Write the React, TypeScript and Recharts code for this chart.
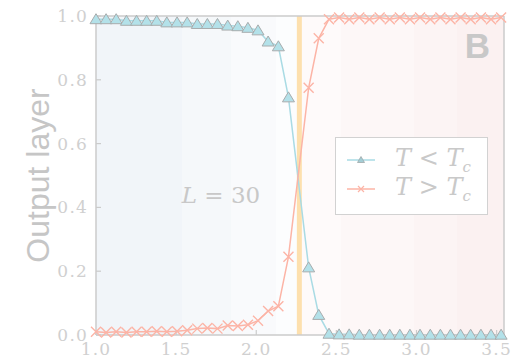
import React from 'react';
import { LineChart, Line, XAxis, YAxis, ReferenceLine, ReferenceArea, ReferenceDot, Legend } from 'recharts';

// temperatures (the point right at Tc is not shown in the figure)
const temperatures = [
  1.0, 1.063, 1.126, 1.19, 1.253, 1.316, 1.379, 1.442, 1.506, 1.569,
  1.632, 1.695, 1.758, 1.822, 1.885, 1.948, 2.011, 2.074, 2.138, 2.201,
  2.327, 2.39, 2.454, 2.517, 2.58, 2.643, 2.706, 2.77, 2.833, 2.896,
  2.959, 3.022, 3.086, 3.149, 3.212, 3.275, 3.338, 3.402, 3.465, 3.528,
];

// output neuron "T < Tc"
const belowTc = [
  0.99, 0.99, 0.99, 0.985, 0.985, 0.985, 0.985, 0.98, 0.98, 0.98,
  0.975, 0.975, 0.975, 0.97, 0.968, 0.963, 0.955, 0.92, 0.905, 0.745,
  0.212, 0.063, 0.004, 0.002, 0.002, 0.001, 0.001, 0.001, 0.001, 0.001,
  0.001, 0.001, 0.001, 0.001, 0.001, 0.001, 0.001, 0.001, 0.001, 0.001,
];

// output neuron "T > Tc"
const aboveTc = [
  0.01, 0.008, 0.01, 0.008, 0.01, 0.01, 0.012, 0.01, 0.012, 0.015,
  0.02, 0.022, 0.02, 0.03, 0.028, 0.032, 0.045, 0.075, 0.09, 0.245,
  0.775, 0.93, 0.99, 0.995, 0.99, 0.995, 0.99, 0.995, 0.99, 0.995,
  0.99, 0.995, 0.99, 0.995, 0.99, 0.995, 0.99, 0.995, 0.99, 0.995,
];

const xTicks = [1.0, 1.5, 2.0, 2.5, 3.0, 3.5];
const yTicks = [0, 0.2, 0.4, 0.6, 0.8, 1.0];
const criticalT = 2.269;
const xDomain = [1.0, 3.546];

const data = temperatures.map((T, i) => ({ T, below: belowTc[i], above: aboveTc[i] }));

const GRAY = '#cbcbcb';
const BLUE = '#a9dbe4';
const RED = '#fcb4a6';

const tickStyle = { fontFamily: 'DejaVu Serif', fontSize: 17, fill: '#d0d0d0', letterSpacing: 1.2 };

const TriangleDot = (props: any) => {
  const { cx, cy, index } = props;
  if (cx == null || cy == null) return null;
  return (
    <path
      key={`tri-${index}`}
      d={`M${cx},${cy - 5.5} L${cx + 6},${cy + 4.5} L${cx - 6},${cy + 4.5} Z`}
      fill="#b3e1e9"
      stroke="#a8acad"
      strokeWidth={1}
    />
  );
};

const CrossDot = (props: any) => {
  const { cx, cy, index } = props;
  if (cx == null || cy == null) return null;
  const s = 5;
  return (
    <path
      key={`x-${index}`}
      d={`M${cx - s},${cy - s} L${cx + s},${cy + s} M${cx - s},${cy + s} L${cx + s},${cy - s}`}
      stroke={RED}
      strokeWidth={1.4}
      fill="none"
    />
  );
};

const YLabel = (props: any) => {
  const vb = props.viewBox || { x: 0, y: 0, width: 0, height: 0 };
  const cx = vb.x + 38;
  const cy = vb.y + vb.height / 2;
  return (
    <text
      x={cx}
      y={cy}
      transform={`rotate(-90 ${cx} ${cy})`}
      textAnchor="middle"
      dominantBaseline="central"
      fontFamily="Liberation Sans"
      fontSize={32}
      fill="#c6c6c6"
    >
      Output layer
    </text>
  );
};

const SizeLabel = (props: any) => {
  const vb = props.viewBox || { x: 0, y: 0, width: 0, height: 0 };
  return (
    <text
      x={vb.x + vb.width / 2}
      y={vb.y + vb.height / 2}
      textAnchor="middle"
      dominantBaseline="central"
      fontFamily="DejaVu Serif"
      fontSize={23}
      fill="#c8c8c8"
    >
      <tspan fontStyle="italic">L</tspan>
      <tspan> = 30</tspan>
    </text>
  );
};

const PanelLabel = (props: any) => {
  const vb = props.viewBox || { x: 0, y: 0, width: 0, height: 0 };
  return (
    <text
      x={vb.x + vb.width / 2}
      y={vb.y + vb.height / 2}
      textAnchor="middle"
      dominantBaseline="central"
      fontFamily="Liberation Sans"
      fontWeight="bold"
      fontSize={35}
      fill="#c8c8c8"
    >
      B
    </text>
  );
};

const LegendBox = () => {
  const row = { display: 'flex', alignItems: 'center', height: 29 };
  const label = { marginLeft: 20, fontFamily: 'DejaVu Serif', fontSize: 24, color: '#c9c9c9', whiteSpace: 'nowrap' as const };
  return (
    <div
      style={{
        width: 153,
        height: 78,
        boxSizing: 'border-box',
        border: '1.5px solid #d2d2d2',
        background: '#ffffff',
        padding: '7px 0 0 11px',
      }}
    >
      <div style={row}>
        <svg width={28} height={12}>
          <line x1={0} y1={6} x2={28} y2={6} stroke={BLUE} strokeWidth={1.5} />
          <path d="M14,2.5 L17.5,8.5 L10.5,8.5 Z" fill="#a3cdd5" stroke="#a0a8aa" strokeWidth={0.8} />
        </svg>
        <span style={label}>
          <i>T</i> &lt; <i>T</i>
          <sub style={{ fontSize: 15, fontStyle: 'italic' }}>c</sub>
        </span>
      </div>
      <div style={row}>
        <svg width={28} height={12}>
          <line x1={0} y1={6} x2={28} y2={6} stroke={RED} strokeWidth={1.5} />
          <path d="M11,3 L17,9 M11,9 L17,3" stroke={RED} strokeWidth={1.2} />
        </svg>
        <span style={label}>
          <i>T</i> &gt; <i>T</i>
          <sub style={{ fontSize: 15, fontStyle: 'italic' }}>c</sub>
        </span>
      </div>
    </div>
  );
};

export default function App() {
  return (
    <div style={{ position: 'absolute', left: 0, top: 0, width: 526, height: 364, background: '#fff' }}>
      <LineChart width={526} height={364} data={data} margin={{ top: 15, right: 21, bottom: 0, left: 0 }}>
        <defs>
          <linearGradient id="bgBands" x1="0" y1="0" x2="1" y2="0">
            <stop offset="0%" stopColor="#f1f5f9" />
            <stop offset="21%" stopColor="#f1f5f9" />
            <stop offset="21%" stopColor="#f5f8fa" />
            <stop offset="33%" stopColor="#f5f8fa" />
            <stop offset="33%" stopColor="#f9fafc" />
            <stop offset="44%" stopColor="#f9fafc" />
            <stop offset="44%" stopColor="#fcfdfe" />
            <stop offset="49.7%" stopColor="#fcfdfe" />
            <stop offset="49.7%" stopColor="#fefafa" />
            <stop offset="60%" stopColor="#fefafa" />
            <stop offset="60%" stopColor="#fdf7f7" />
            <stop offset="78%" stopColor="#fdf7f7" />
            <stop offset="78%" stopColor="#fcf4f4" />
            <stop offset="88.5%" stopColor="#fcf4f4" />
            <stop offset="88.5%" stopColor="#fbf1f1" />
            <stop offset="100%" stopColor="#fbf1f1" />
          </linearGradient>
        </defs>

        <XAxis
          dataKey="T"
          type="number"
          domain={xDomain}
          ticks={xTicks}
          tickFormatter={(v: number) => v.toFixed(1)}
          height={29}
          stroke={GRAY}
          axisLine={{ stroke: GRAY, strokeWidth: 1.5 }}
          tickLine={{ stroke: GRAY, strokeWidth: 1.2 }}
          tickSize={-5}
          tickMargin={13}
          tick={tickStyle}
          interval={0}
        />
        <XAxis
          xAxisId="top"
          orientation="top"
          dataKey="T"
          type="number"
          domain={xDomain}
          ticks={xTicks}
          height={1}
          stroke={GRAY}
          axisLine={{ stroke: GRAY, strokeWidth: 1.5 }}
          tickLine={{ stroke: GRAY, strokeWidth: 1.2 }}
          tickSize={-5}
          tick={false}
          interval={0}
        />
        <YAxis
          type="number"
          domain={[0, 1]}
          ticks={yTicks}
          tickFormatter={(v: number) => v.toFixed(1)}
          width={96}
          stroke={GRAY}
          axisLine={{ stroke: GRAY, strokeWidth: 1.5 }}
          tickLine={{ stroke: GRAY, strokeWidth: 1.2 }}
          tickSize={-5}
          tickMargin={13}
          tick={tickStyle}
          interval={0}
          label={<YLabel />}
        />
        <YAxis
          yAxisId="right"
          orientation="right"
          type="number"
          domain={[0, 1]}
          ticks={yTicks}
          width={1}
          stroke={GRAY}
          axisLine={{ stroke: GRAY, strokeWidth: 1.5 }}
          tickLine={{ stroke: GRAY, strokeWidth: 1.2 }}
          tickSize={-5}
          tick={false}
          interval={0}
        />

        <ReferenceArea x1={xDomain[0]} x2={xDomain[1]} y1={0} y2={1} fill="url(#bgBands)" fillOpacity={1} stroke="none" />
        <ReferenceLine x={criticalT} stroke="#fde0ae" strokeWidth={5} />

        <Line
          dataKey="below"
          stroke={BLUE}
          strokeWidth={1.5}
          dot={TriangleDot}
          activeDot={false}
          isAnimationActive={false}
        />
        <Line
          dataKey="above"
          stroke={RED}
          strokeWidth={1.5}
          dot={CrossDot}
          activeDot={false}
          isAnimationActive={false}
        />

        <ReferenceDot x={1.78} y={0.44} r={0} stroke="none" fill="none" label={<SizeLabel />} />
        <ReferenceDot x={3.38} y={0.908} r={0} stroke="none" fill="none" label={<PanelLabel />} />

        <Legend
          layout="vertical"
          align="center"
          verticalAlign="middle"
          content={<LegendBox />}
          wrapperStyle={{ position: 'absolute', left: 335, top: 137, width: 153, height: 78 }}
        />
      </LineChart>
    </div>
  );
}
